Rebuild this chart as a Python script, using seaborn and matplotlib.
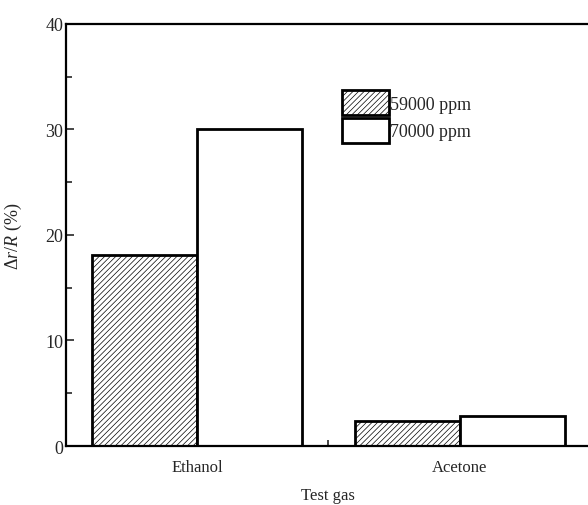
import pandas as pd
import seaborn as sns
import matplotlib.pyplot as plt
from matplotlib.ticker import MultipleLocator, FixedLocator

# data
gases = ["Ethanol", "Acetone"]
conc_labels = ["59000 ppm", "70000 ppm"]
resp_59000 = [18.1, 2.4]
resp_70000 = [30.0, 2.8]

df = pd.DataFrame({
    "gas": gases * 2,
    "conc": [conc_labels[0]] * 2 + [conc_labels[1]] * 2,
    "resp": resp_59000 + resp_70000,
})

sns.set_theme(style="white")
plt.rcParams["font.family"] = ["Liberation Serif", "DejaVu Serif"]
plt.rcParams["mathtext.fontset"] = "custom"
plt.rcParams["mathtext.rm"] = "Liberation Serif"
plt.rcParams["mathtext.it"] = "Liberation Serif:italic"
plt.rcParams["hatch.linewidth"] = 0.5
plt.rcParams["hatch.color"] = "#666666"

fig = plt.figure(figsize=(5.88, 5.06), dpi=100)
ax = fig.add_axes([0.112, 0.1166, 0.893, 0.834])

sns.barplot(data=df, x="gas", y="resp", hue="conc", hue_order=conc_labels,
            palette=["white", "white"], edgecolor="black", linewidth=2,
            width=0.8, ax=ax, legend=True)

# hatch the 59000 ppm bars
for bar in ax.containers[0]:
    bar.set_hatch("//////")

ax.set_xlim(-0.5, 1.5)
ax.set_ylim(0, 40)
ax.yaxis.set_major_locator(MultipleLocator(10))
ax.yaxis.set_minor_locator(MultipleLocator(5))
ax.xaxis.set_minor_locator(FixedLocator([0.5]))
ax.tick_params(axis="y", which="major", direction="in", length=6, width=1.2,
               labelsize=13, pad=2, left=True)
ax.tick_params(axis="y", which="minor", direction="in", length=4, width=1.2, left=True)
ax.tick_params(axis="x", which="major", length=0, labelsize=12, pad=9)
ax.tick_params(axis="x", which="minor", direction="in", length=4, width=1.2, bottom=True)

for side in ["left", "bottom", "top"]:
    ax.spines[side].set_linewidth(1.6)
    ax.spines[side].set_color("black")
ax.spines["right"].set_visible(False)

ax.set_xlabel("Test gas", fontsize=12, labelpad=9)
ax.set_ylabel(r"$\Delta\mathit{r}/\mathit{R}$ (%)", fontsize=13, labelpad=15)

leg = ax.legend(loc="upper left", bbox_to_anchor=(0.513, 0.86), frameon=False,
                fontsize=13, handlelength=2.6, handleheight=1.75,
                handletextpad=0.05, labelspacing=0.15, borderaxespad=0)
for h in leg.legend_handles:
    h.set_linewidth(2)
    h.set_edgecolor("black")
leg.legend_handles[0].set_hatch("//////")

fig.savefig("out.png", dpi=100)
